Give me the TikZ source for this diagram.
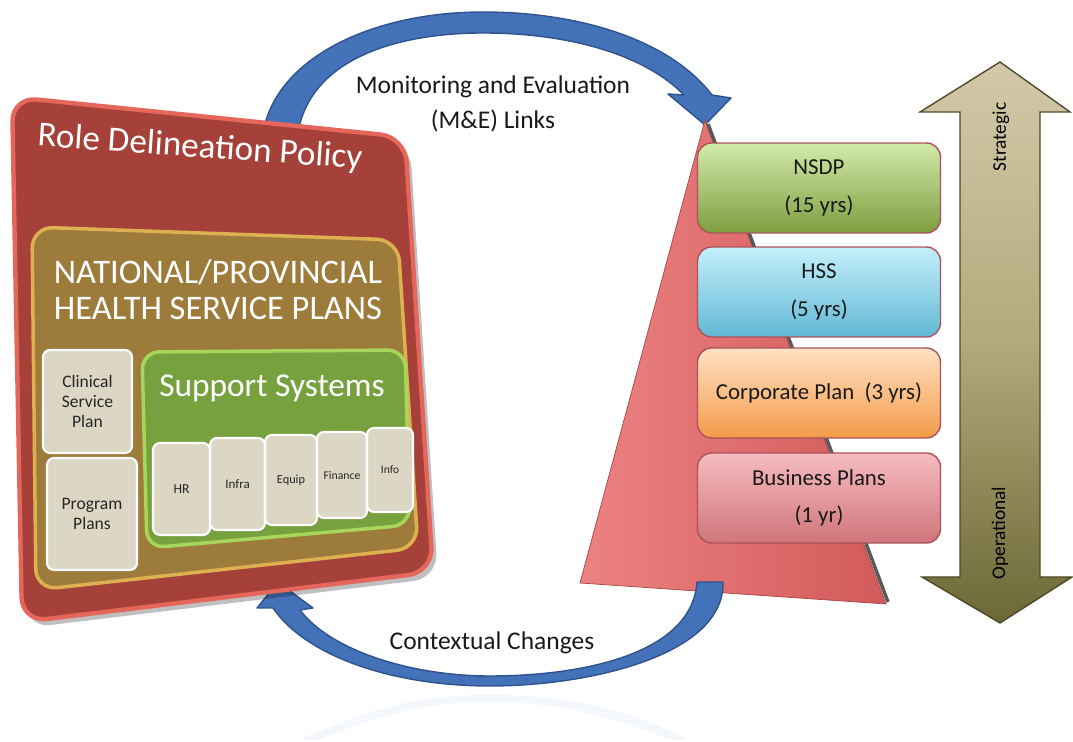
\documentclass[tikz,border=0pt]{standalone}
\usepackage{fontspec}
\setmainfont{Carlito}
\usetikzlibrary{calc}

\definecolor{rdpred}{HTML}{A6413A}
\definecolor{rdpedge}{HTML}{E5675C}
\definecolor{hspbrown}{HTML}{9D7B3B}
\definecolor{hspedge}{HTML}{DDB050}
\definecolor{ssgreen}{HTML}{77A13F}
\definecolor{ssedge}{HTML}{A8D65A}
\definecolor{planfill}{HTML}{DCD6C4}
\definecolor{loopblue}{HTML}{4472B9}
\definecolor{loopedge}{HTML}{2E538F}
\definecolor{trilight}{HTML}{EC8282}
\definecolor{tridark}{HTML}{D35A5A}
\definecolor{triedge}{HTML}{A94545}
\definecolor{tierline}{HTML}{A9525A}
\definecolor{nsdptop}{HTML}{D2EAAA}
\definecolor{nsdpbot}{HTML}{7E9E40}
\definecolor{hsstop}{HTML}{C4EFFA}
\definecolor{hssbot}{HTML}{62B8D6}
\definecolor{corptop}{HTML}{FFE2C4}
\definecolor{corpbot}{HTML}{F39A48}
\definecolor{bustop}{HTML}{F6BCC0}
\definecolor{busbot}{HTML}{CF767B}
\definecolor{khakitop}{HTML}{D3C9A9}
\definecolor{khakimid}{HTML}{B3A97C}
\definecolor{khakibot}{HTML}{6C6836}
\definecolor{khakiedge}{HTML}{4E4A28}

\tikzset{
  plan/.style={draw=white, line width=1.2pt, fill=planfill, rounded corners=4pt,
    align=center, text=black!85, inner sep=1pt},
  tier/.style={draw=tierline, line width=0.8pt, rounded corners=8pt,
    minimum width=4.86cm, minimum height=1.8cm, align=center, text=black!90,
    font=\fontsize{13}{21.5}\selectfont},
  cyclearrow/.style={fill=loopblue, draw=loopedge, line width=0.8pt, line join=round},
  caption/.style={align=center, text=black!90, font=\fontsize{14.5}{19.5}\selectfont},
  paneltext/.style={text=white, align=center}
}

\begin{document}
\begin{tikzpicture}[x=0.02cm, y=-0.02cm]
\useasboundingbox (0,0) rectangle (1073,742);
\coordinate (apex) at (705,120);

% M&E loop, goes behind the panel
\filldraw[cyclearrow] (262,140) .. controls (270,60) and (370,12) .. (483,12)
  .. controls (580,12) and (670,40) .. (712,95)
  -- (731,98) -- ($(apex)+(0,5)$) -- (668,94) -- (684,95)
  .. controls (645,55) and (570,33) .. (483,33)
  .. controls (395,33) and (305,60) .. (297,140) -- cycle;

% faint reflection under the bottom loop
\fill[loopblue!40, opacity=0.15] (300,740) .. controls (380,703) and (430,695) .. (490,695)
  .. controls (560,695) and (620,705) .. (690,740) -- (672,740)
  .. controls (600,712) and (550,702) .. (490,702)
  .. controls (430,702) and (385,712) .. (318,740) -- cycle;

% pyramid
\draw[triedge, left color=trilight, right color=tridark] (apex) -- (886,604) -- (580,583) -- cycle;
\draw[black!65, line width=2pt] ($(apex)+(3,4)$) -- (888,602);

% contextual changes loop (over pyramid base)
\filldraw[cyclearrow] (723,582) .. controls (725,655) and (590,686) .. (490,686)
  .. controls (390,686) and (305,655) .. (273,608)
  -- (257,608) -- (278,582) -- (313,608) -- (300,610)
  .. controls (330,650) and (410,676) .. (490,676)
  .. controls (580,676) and (692,655) .. (697,582) -- cycle;

% role delineation panel
\fill[black, opacity=0.25, rounded corners=14pt]
  (16,103) -- (410,143) -- (438,578) -- (26,628) -- cycle;
\draw[rdpedge, line width=2.5pt, fill=rdpred, rounded corners=14pt]
  (12,97) -- (405,137) -- (433,572) -- (22,622) -- cycle;
\node[paneltext, rotate=-4, font=\fontsize{20}{24}\selectfont] (rdp) at (200,148) {Role Delineation Policy};

% health service plans panel
\draw[hspedge, line width=2pt, fill=hspbrown, rounded corners=12pt]
  (32,227) -- (398,240) -- (418,548) -- (36,590) -- cycle;
\node[paneltext, font=\fontsize{19.6}{20.4}\selectfont] (hsp) at (218,290) {NATIONAL/PROVINCIAL\\HEALTH SERVICE PLANS};

\node[plan, minimum width=1.78cm, minimum height=2.06cm, font=\fontsize{10}{11.5}\selectfont] (csp) at (87.5,401.5) {Clinical\\Service\\Plan};
\node[plan, minimum width=1.8cm, minimum height=2.24cm, font=\fontsize{10}{11.5}\selectfont] (pp) at (92,514) {Program\\Plans};

% support systems
\draw[ssedge, line width=2pt, fill=ssgreen, rounded corners=10pt]
  (142,352) -- (405,350) -- (410,525) -- (147,548) -- cycle;
\node[paneltext, font=\fontsize{19}{22}\selectfont] (ss) at (272,388) {Support Systems};

\node[plan, minimum width=1.14cm, minimum height=1.84cm, font=\fontsize{7.8}{9}\selectfont] (hr) at (181.5,489) {HR};
\node[plan, minimum width=1.1cm, minimum height=1.84cm, font=\fontsize{7.4}{9}\selectfont] (infra) at (237.5,484) {Infra};
\node[plan, minimum width=1.04cm, minimum height=1.8cm, font=\fontsize{7}{9}\selectfont] (equip) at (291,480) {Equip};
\node[plan, minimum width=1.0cm, minimum height=1.72cm, font=\fontsize{6.7}{8}\selectfont] (fin) at (342,475) {Finance};
\node[plan, minimum width=0.92cm, minimum height=1.68cm, font=\fontsize{6.5}{8}\selectfont] (info) at (390,470) {Info};

% planning tiers
\node[tier, top color=nsdptop, bottom color=nsdpbot] (nsdp) at (819,188) {NSDP\\(15 yrs)};
\node[tier, top color=hsstop, bottom color=hssbot] (hss) at (819,292) {HSS\\(5 yrs)};
\node[tier, top color=corptop, bottom color=corpbot] (corp) at (819,393) {Corporate Plan~~(3 yrs)};
\node[tier, top color=bustop, bottom color=busbot] (bus) at (819,498) {Business Plans\\(1 yr)};

% strategic / operational
\draw[khakiedge, line width=0.8pt, top color=khakitop, bottom color=khakibot, middle color=khakimid]
  (1000,62) -- (1070,112) -- (1040,112) -- (1040,577) -- (1072,577) -- (1000,623)
  -- (922,577) -- (960,577) -- (960,112) -- (920,112) -- cycle;
\node[rotate=90, font=\fontsize{11}{13}\selectfont] (strat) at (1001,137) {Strategic};
\node[rotate=90, font=\fontsize{11}{13}\selectfont] (oper) at (1000,533) {Operational};

\node[caption] (me) at (493,104) {Monitoring and Evaluation\\(M\&E) Links};
\node[caption] (ctx) at (492,643) {Contextual Changes};

\end{tikzpicture}
\end{document}
